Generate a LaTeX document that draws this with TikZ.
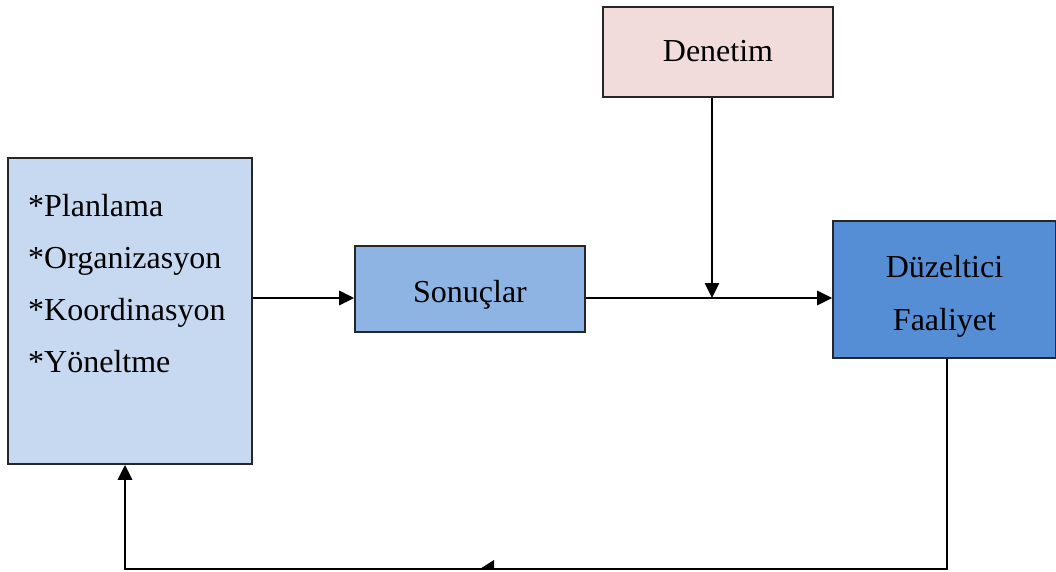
\documentclass[tikz,border=0pt]{standalone}
\usepackage{fontspec}
\setmainfont{Liberation Serif}
\usetikzlibrary{arrows.meta}
\definecolor{mgmt}{HTML}{C6D9F1}
\definecolor{result}{HTML}{8DB4E2}
\definecolor{audit}{HTML}{F2DCDB}
\definecolor{fix}{HTML}{558ED5}
\tikzset{
  blockbox/.style={draw=black!85, line width=1.6pt, rectangle, inner sep=0pt},
  label text/.style={inner sep=0pt, align=center, font=\fontsize{32}{53}\selectfont},
  link/.style={line width=2.9pt, draw=black, -{Triangle[length=15pt,width=14pt]}},
  plain/.style={line width=2.9pt, draw=black},
}
\begin{document}
\begin{tikzpicture}[x=1pt,y=-1pt]
\useasboundingbox (0,0) rectangle (1056,571);
\begin{scope}
\clip (0,0) rectangle (1056,571);
% boxes
\node[blockbox, fill=mgmt, minimum width=244pt, minimum height=306pt] (mgmt) at (130,311) {};
\node[anchor=north west, align=left, inner sep=0pt, font=\fontsize{32}{52}\selectfont] (tasks) at (28,194)
  {*Planlama\\*Organizasyon\\*Koordinasyon\\*Yöneltme};
\node[blockbox, fill=result, minimum width=230pt, minimum height=86pt] (res) at (470,289) {};
\node[label text] (restext) at (470,295) {Sonuçlar};
\node[blockbox, fill=audit, minimum width=230pt, minimum height=90pt] (aud) at (718,52) {};
\node[label text] (audtext) at (718,51) {Denetim};
\node[blockbox, fill=fix, minimum width=223pt, minimum height=137pt] (fix) at (944.5,289.5) {};
\node[label text] (fixtext) at (944.5,296) {Düzeltici\\Faaliyet};
% connection points
\coordinate (j) at (712,298);
\coordinate (br) at (947,569);
\coordinate (mid) at (480,569);
\coordinate (bl) at (125,569);
% connectors
\draw[link] (mgmt.east |- 0,298) -- (res.west |- 0,298);
\draw[link] (res.east |- 0,298) -- (fix.west |- 0,298);
\draw[link] (aud.south -| j) -- (j);
\draw[plain] (fix.south -| br) -- (br) -- (mid);
% half arrowhead in the middle of the return line
\fill (479,569.5) -- (494,560) -- (494,569.5) -- cycle;
\draw[link] (mid) -- (bl) -- (mgmt.south -| bl);
\end{scope}
\end{tikzpicture}
\end{document}
